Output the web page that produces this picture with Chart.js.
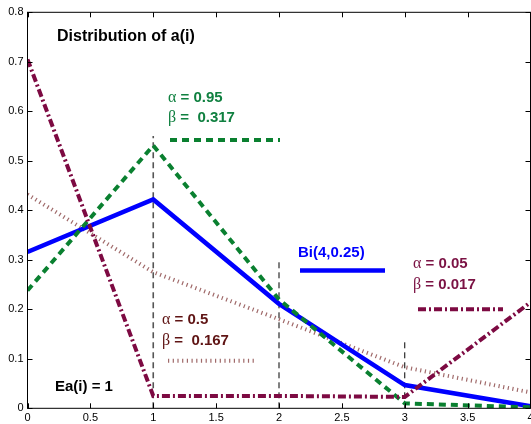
<!DOCTYPE html>
<html>
<head>
<meta charset="utf-8">
<script src="https://cdn.jsdelivr.net/npm/chart.js@4"></script>
<style>
html,body{margin:0;padding:0;background:#fff;}
canvas{display:block;}
</style>
</head>
<body>
<canvas id="c" width="531" height="424"></canvas>
<script>
// ---- data ----
const categories = [0, 1, 2, 3, 4];
const binomial   = [0.316, 0.422, 0.211, 0.047, 0.004];   // Bi(4,0.25)
const alpha095   = [0.238, 0.531, 0.220, 0.010, 0.002];   // alpha=0.95, beta=0.317
const alpha05    = [0.432, 0.275, 0.180, 0.083, 0.032];   // alpha=0.5, beta=0.167
const alpha005   = [0.705, 0.025, 0.025, 0.023, 0.214];   // alpha=0.05, beta=0.017
const vlineX     = [1, 2, 3];
const vlineTop   = [0.55, 0.30, 0.135];
const xTicks     = [0, 0.5, 1, 1.5, 2, 2.5, 3, 3.5, 4];
const yTicks     = [0, 0.1, 0.2, 0.3, 0.4, 0.5, 0.6, 0.7, 0.8];

const pts = arr => categories.map((c, i) => ({x: c, y: arr[i]}));
const fmt = v => String(Number(Number(v).toFixed(2)));

const GREEN = '#0a8030', GREEN_T = '#108040';
const RED = '#7d0a42', RED_T = '#7b1244';
const DOT = '#a06a6a', BROWN_T = '#5f1414';
const BLUE = '#0000ff';
const SANS = '"Liberation Sans", Arial, sans-serif';
const SERIF = '"Liberation Serif", "Times New Roman", serif';

const datasets = [
  {data: pts(alpha005), borderColor: RED, borderWidth: 4, borderDash: [8, 3, 2, 3], order: 0},
  {data: pts(alpha095), borderColor: GREEN, borderWidth: 4, borderDash: [7, 5], order: 1},
  {data: pts(binomial), borderColor: BLUE, borderWidth: 4.5, order: 2},
  {data: pts(alpha05), borderColor: DOT, borderWidth: 4, borderDash: [1.2, 3.5], order: 3}
];
vlineX.forEach((vx, i) => {
  datasets.push({
    data: [{x: vx, y: 0}, {x: vx, y: vlineTop[i]}],
    borderColor: i === 0 ? '#555' : '#000',
    borderWidth: i === 0 ? 1.6 : 1,
    borderDash: [6, 4],
    order: 4 + i
  });
});
datasets.forEach(d => { d.pointRadius = 0; d.tension = 0; d.fill = false; d.borderCapStyle = 'butt'; });

function labelText(ctx, x, y, greek, rest, color) {
  ctx.fillStyle = color;
  ctx.font = '16px ' + SERIF;
  ctx.fillText(greek, x, y);
  const w = ctx.measureText(greek).width;
  ctx.font = 'bold 15px ' + SANS;
  ctx.fillText(rest, x + w, y);
}

function seg(ctx, x1, x2, y, color, width, dash) {
  ctx.save();
  ctx.strokeStyle = color;
  ctx.lineWidth = width;
  ctx.setLineDash(dash || []);
  ctx.lineCap = 'butt';
  ctx.beginPath();
  ctx.moveTo(x1, y);
  ctx.lineTo(x2, y);
  ctx.stroke();
  ctx.restore();
}

const deco = {
  id: 'deco',
  afterDraw(chart) {
    const ctx = chart.ctx;
    const a = chart.chartArea;
    const xs = chart.scales.x, ys = chart.scales.y;
    ctx.save();
    ctx.strokeStyle = '#000';
    ctx.lineWidth = 1;
    ctx.setLineDash([]);
    ctx.strokeRect(a.left, a.top, a.right - a.left, a.bottom - a.top);
    ctx.beginPath();
    xTicks.forEach(v => {
      const px = Math.round(xs.getPixelForValue(v)) + 0.5;
      ctx.moveTo(px, a.bottom); ctx.lineTo(px, a.bottom - 5);
      ctx.moveTo(px, a.top); ctx.lineTo(px, a.top + 5);
    });
    yTicks.forEach(v => {
      const py = Math.round(ys.getPixelForValue(v)) + 0.5;
      ctx.moveTo(a.left, py); ctx.lineTo(a.left + 5, py);
      ctx.moveTo(a.right, py); ctx.lineTo(a.right - 5, py);
    });
    ctx.stroke();
    ctx.textBaseline = 'alphabetic';
    ctx.textAlign = 'left';
    ctx.fillStyle = '#000';
    ctx.font = 'bold 16px ' + SANS;
    ctx.fillText('Distribution of a(i)', 57, 40.5);
    ctx.font = 'bold 15px ' + SANS;
    ctx.fillText('Ea(i) = 1', 55, 391);
    labelText(ctx, 168, 101.7, 'α', ' = 0.95', GREEN_T);
    labelText(ctx, 168, 121.7, 'β', ' =  0.317', GREEN_T);
    seg(ctx, 170, 280, 140, GREEN, 4, [7, 5]);
    ctx.fillStyle = BLUE;
    ctx.font = 'bold 15px ' + SANS;
    ctx.fillText('Bi(4,0.25)', 298, 256.5);
    seg(ctx, 300, 385, 270.5, BLUE, 4.5);
    labelText(ctx, 413, 268.3, 'α', ' = 0.05', RED_T);
    labelText(ctx, 413, 289.3, 'β', ' = 0.017', RED_T);
    seg(ctx, 418, 503, 309.3, RED, 4, [8, 3, 2, 3]);
    labelText(ctx, 162, 324, 'α', ' = 0.5', BROWN_T);
    labelText(ctx, 162, 345, 'β', ' =  0.167', BROWN_T);
    seg(ctx, 168, 257, 360.7, DOT, 4, [1.2, 3.5]);
    ctx.restore();
  }
};

new Chart(document.getElementById('c'), {
  type: 'line',
  data: {datasets},
  plugins: [deco],
  options: {
    responsive: false,
    animation: false,
    devicePixelRatio: 1,
    layout: {padding: {top: 12.3, right: 0.5, left: 0, bottom: 0}},
    plugins: {legend: {display: false}, tooltip: {enabled: false}},
    scales: {
      x: {
        type: 'linear', min: 0, max: 4,
        afterBuildTicks: s => { s.ticks = xTicks.map(v => ({value: v})); },
        afterFit: s => { s.height = 15.7; s.paddingLeft = 0; s.paddingRight = 0; },
        ticks: {color: '#000', font: {size: 11, family: SANS}, padding: 3, maxRotation: 0, autoSkip: false, callback: fmt},
        grid: {display: false, drawTicks: false},
        border: {display: false}
      },
      y: {
        type: 'linear', min: 0, max: 0.8,
        afterBuildTicks: s => { s.ticks = yTicks.map(v => ({value: v})); },
        afterFit: s => { s.width = 27.5; s.paddingTop = 0; s.paddingBottom = 0; },
        ticks: {color: '#000', font: {size: 11, family: SANS}, padding: 4, callback: fmt},
        grid: {display: false, drawTicks: false},
        border: {display: false}
      }
    }
  }
});
</script>
</body>
</html>
